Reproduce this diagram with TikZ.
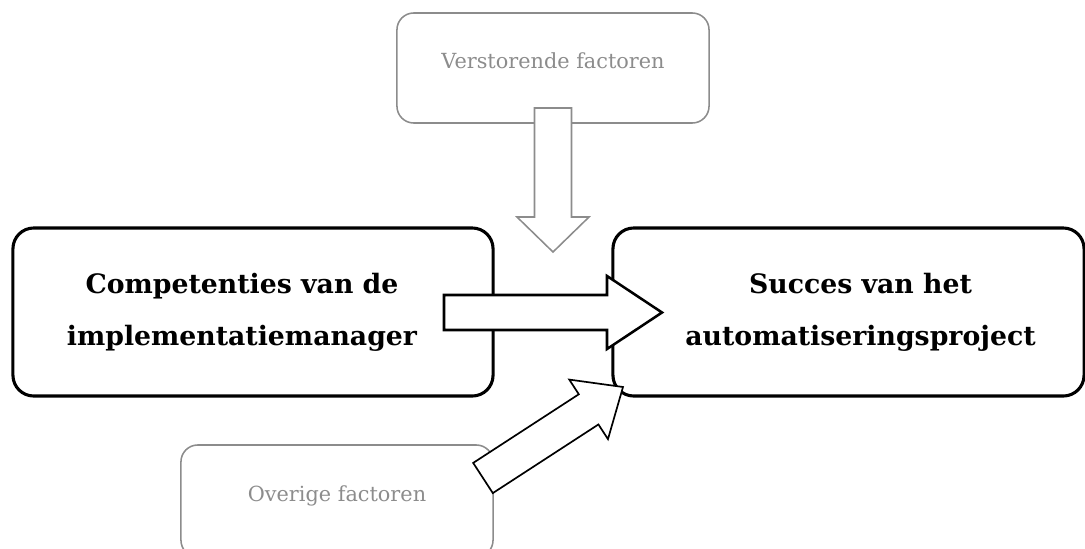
\documentclass[tikz,border=0pt]{standalone}
\usepackage{fontspec}
\setmainfont{DejaVu Serif}
\usetikzlibrary{calc}
\definecolor{grijs}{HTML}{8C8C8C}

% blokpijl: stijl, staart, punt, halve schacht, halve kop, koplengte
\newcommand{\blokpijl}[6]{%
  \coordinate (#2-basis) at ($(#3)!#6!(#2)$);
  \draw[#1] ($(#2)!#4!90:(#3)$) -- ($(#2-basis)!#4!90:(#3)$) -- ($(#2-basis)!#5!90:(#3)$) -- (#3)
    -- ($(#2-basis)!#5!-90:(#3)$) -- ($(#2-basis)!#4!-90:(#3)$) -- ($(#2)!#4!-90:(#3)$) -- cycle;}

\begin{document}
\begin{tikzpicture}[x=0.025cm, y=-0.025cm,
    vak/.style={draw=black, line width=2.2pt, rounded corners=0.52cm, minimum height=4.2cm,
      align=center, font=\fontsize{19}{37}\selectfont\bfseries},
    grijsvak/.style={draw=grijs, line width=1.1pt, rounded corners=0.42cm, text=grijs,
      font=\fontsize{14.8}{17}\selectfont, text height=11pt, text depth=11pt},
    pijl/.style={draw=black, fill=white, line width=1.8pt, line join=miter},
    grijspijl/.style={draw=grijs, fill=white, line width=1.1pt, line join=miter}]
    \useasboundingbox (0,0) rectangle (1085,548);

    % Vakken
    \node[grijsvak, minimum width=7.8cm, minimum height=2.75cm] (storing) at (553,68) {Verstorende factoren};
    \node[vak, minimum width=12cm] (comp) at (253,312)
        {Competenties van de\hspace*{0.55cm}\\implementatiemanager\hspace*{0.55cm}};
    \node[vak, minimum width=11.775cm] (succes) at (848.5,312)
        {\hspace*{0.6cm}Succes van het\\\hspace*{0.6cm}automatiseringsproject};
    \node[grijsvak, minimum width=7.8cm, minimum height=2.8cm] (overig) at (337,501) {Overige factoren};

    % Begin- en eindpunten van de pijlen
    \coordinate (storing-start) at (553,108);
    \coordinate (storing-eind) at (553,252);
    \coordinate (comp-start) at (444,312.5);
    \coordinate (comp-eind) at (662,312.5);
    \coordinate (overig-start) at (483,478);
    \coordinate (overig-eind) at (623,387);

    % Blokpijlen
    \blokpijl{grijspijl}{storing-start}{storing-eind}{0.4625cm}{0.9cm}{0.875cm}
    \blokpijl{pijl}{comp-start}{comp-eind}{0.4375cm}{0.9125cm}{1.375cm}
    \blokpijl{pijl, line width=1.2pt}{overig-start}{overig-eind}{0.45cm}{0.8875cm}{1.025cm}
\end{tikzpicture}
\end{document}
